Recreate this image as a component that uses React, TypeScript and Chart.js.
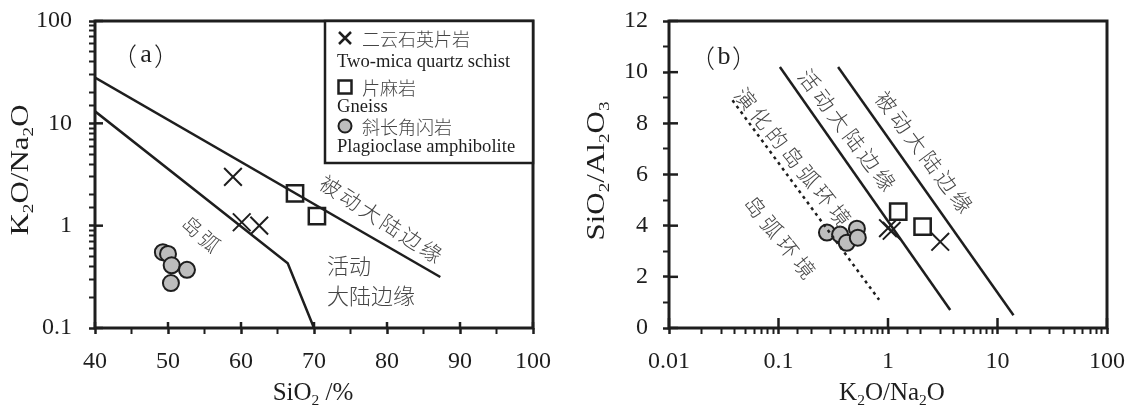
import React, { useEffect, useRef } from 'react';
import { Chart, registerables } from 'chart.js';

Chart.register(...registerables);

// ---------- Panel (a): K2O/Na2O vs SiO2 ----------
const aXTicks = [40, 50, 60, 70, 80, 90, 100];
const aYTicks = [0.1, 1, 10, 100];

const schistSiO2 = [58.9, 60.1, 62.5];
const schistRatioA = [3.0, 1.08, 1.0];
const gneissSiO2 = [67.4, 70.4];
const gneissRatioA = [2.07, 1.24];
const amphSiO2 = [49.3, 50.0, 50.5, 52.6, 50.4];
const amphRatioA = [0.55, 0.53, 0.41, 0.37, 0.275];

const arcLineSiO2 = [40, 66.4, 70];
const arcLineRatio = [13.1, 0.43, 0.1];
const passiveLineSiO2 = [40, 87.3];
const passiveLineRatio = [28, 0.315];

// ---------- Panel (b): SiO2/Al2O3 vs K2O/Na2O ----------
const bXTicks = [0.01, 0.1, 1, 10, 100];
const bYTicks = [0, 2, 4, 6, 8, 10, 12];

const schistRatioB = [1.0, 1.08, 3.0];
const schistSiAl = [3.9, 3.8, 3.37];
const gneissRatioB = [1.24, 2.07];
const gneissSiAl = [4.55, 3.96];
const amphRatioB = [0.277, 0.365, 0.42, 0.52, 0.53];
const amphSiAl = [3.73, 3.65, 3.33, 3.88, 3.53];

const evolvedArcLineRatio = [0.038, 0.83];
const evolvedArcLineSiAl = [8.9, 1.1];
const activeLineRatio = [0.103, 3.7];
const activeLineSiAl = [10.2, 0.7];
const passiveLineRatioB = [0.35, 14];
const passiveLineSiAl = [10.2, 0.5];

// ---------- Text ----------
const legendCn = ['二云石英片岩', '片麻岩', '斜长角闪岩'];
const legendEn = ['Two-mica quartz schist', 'Gneiss', 'Plagioclase amphibolite'];
const regionA = { arc: '岛弧', passive: '被动大陆边缘', active1: '活动', active2: '大陆边缘' };
const regionB = { evolved: '演化的岛弧环境', active: '活动大陆边缘', passive: '被动大陆边缘', arc: '岛弧环境' };

const SERIF = "'Liberation Serif', 'Times New Roman', serif";
const CJK = "'Noto Sans CJK SC', 'Noto Sans CJK JP', sans-serif";
const INK = '#1e1e1e';
const LABEL = '#454545';

type Seg = { t: string; sub?: boolean };

const pts = (xs: number[], ys: number[]) => xs.map((x, i) => ({ x, y: ys[i] }));

const isTick = (list: number[], v: number) =>
  list.find((t) => Math.abs(v - t) <= 1e-6 * Math.max(Math.abs(t), 1e-9) || Math.abs(v - t) < 1e-12);

const lineDs = (data: any[], dashed = false) => ({
  data,
  showLine: true,
  borderColor: INK,
  borderWidth: 2.5,
  borderDash: dashed ? [3, 4] : [],
  pointRadius: 0,
  pointHoverRadius: 0,
  fill: false,
  tension: 0,
});
const crossDs = (data: any[]) => ({
  data,
  showLine: false,
  pointStyle: 'crossRot',
  pointRadius: 12.5,
  borderColor: INK,
  backgroundColor: INK,
  borderWidth: 2,
});
const squareDs = (data: any[]) => ({
  data,
  showLine: false,
  pointStyle: 'rect',
  pointRadius: 11.5,
  borderColor: INK,
  backgroundColor: '#ffffff',
  borderWidth: 2.5,
});
const circleDs = (data: any[]) => ({
  data,
  showLine: false,
  pointStyle: 'circle',
  pointRadius: 8,
  borderColor: INK,
  backgroundColor: '#bdbdbd',
  borderWidth: 2,
});

function drawRich(ctx: CanvasRenderingContext2D, segs: Seg[], x: number, y: number, size: number, rot = 0, stretch = 1) {
  ctx.save();
  ctx.translate(x, y);
  if (rot) ctx.rotate(rot);
  if (stretch !== 1) ctx.scale(stretch, 1);
  const sub = size * 0.62;
  let total = 0;
  const widths = segs.map((s) => {
    ctx.font = `${s.sub ? sub : size}px ${SERIF}`;
    const w = ctx.measureText(s.t).width;
    total += w;
    return w;
  });
  let cx = -total / 2;
  ctx.fillStyle = INK;
  ctx.textAlign = 'left';
  ctx.textBaseline = 'alphabetic';
  segs.forEach((s, i) => {
    ctx.font = `${s.sub ? sub : size}px ${SERIF}`;
    ctx.fillText(s.t, cx, s.sub ? size * 0.2 : 0);
    cx += widths[i];
  });
  ctx.restore();
}

function drawLabel(ctx: CanvasRenderingContext2D, text: string, x: number, y: number, deg: number, size: number, spacing = 0, align: CanvasTextAlign = 'center') {
  ctx.save();
  ctx.translate(x, y);
  ctx.rotate((deg * Math.PI) / 180);
  ctx.font = `300 ${size}px ${CJK}`;
  (ctx as any).letterSpacing = `${spacing}px`;
  ctx.fillStyle = LABEL;
  ctx.textAlign = align;
  ctx.textBaseline = 'middle';
  ctx.fillText(text, align === 'center' ? spacing / 2 : 0, 0);
  ctx.restore();
}

function drawTag(ctx: CanvasRenderingContext2D, letter: string, cx: number, cy: number) {
  ctx.save();
  ctx.fillStyle = INK;
  ctx.textBaseline = 'middle';
  ctx.font = `300 25px ${CJK}`;
  ctx.textAlign = 'right';
  ctx.fillText('（', cx - 9, cy);
  ctx.textAlign = 'left';
  ctx.fillText('）', cx + 8, cy);
  ctx.textAlign = 'center';
  ctx.font = `26px ${SERIF}`;
  ctx.fillText(letter, cx, cy - 1);
  ctx.restore();
}

function frameAndTicks(chart: any, xMaj: number[], yMaj: number[], xIn: number, yIn: number) {
  const { ctx, chartArea } = chart;
  const { left, right, top, bottom } = chartArea;
  const xs = chart.scales.x;
  const ys = chart.scales.y;
  ctx.save();
  ctx.strokeStyle = INK;
  ctx.lineWidth = 2.5;
  xMaj.forEach((v) => {
    const p = xs.getPixelForValue(v);
    ctx.beginPath();
    ctx.moveTo(p, bottom);
    ctx.lineTo(p, bottom - xIn);
    ctx.stroke();
  });
  yMaj.forEach((v) => {
    const p = ys.getPixelForValue(v);
    ctx.beginPath();
    ctx.moveTo(left, p);
    ctx.lineTo(left + yIn, p);
    ctx.stroke();
  });
  ctx.lineWidth = 3;
  ctx.strokeRect(left, top, right - left, bottom - top);
  ctx.restore();
}

function scaleOpts(type: string, min: number, max: number, labels: number[], pad: number, fit: (s: any) => void, step?: number) {
  return {
    type,
    min,
    max,
    afterFit: fit,
    border: { display: false },
    grid: {
      drawOnChartArea: false,
      drawTicks: true,
      tickLength: 6,
      tickColor: INK,
      tickWidth: (c: any) => (c.tick && isTick(labels, c.tick.value) !== undefined ? 2.5 : 2),
    },
    ticks: {
      autoSkip: false,
      maxRotation: 0,
      minRotation: 0,
      padding: pad,
      color: INK,
      font: { family: SERIF, size: 24 },
      ...(step ? { stepSize: step } : {}),
      callback: (v: any) => {
        const t = isTick(labels, Number(v));
        return t === undefined ? '' : String(t);
      },
    },
  };
}

const fitX = (s: any) => {
  s.height = 81;
  s.paddingLeft = 0;
  s.paddingRight = 0;
};
const fitY = (w: number) => (s: any) => {
  s.width = w;
  s.paddingTop = 0;
  s.paddingBottom = 0;
};

function makeA(canvas: HTMLCanvasElement) {
  const decor = {
    id: 'decorA',
    afterDraw(chart: any) {
      const { ctx, chartArea } = chart;
      frameAndTicks(chart, aXTicks, aYTicks, 6, 8);
      drawTag(ctx, 'a', 146, 56);
      // region labels
      drawLabel(ctx, regionA.arc, 201, 234, 42, 20, 3);
      drawLabel(ctx, regionA.passive, 381, 219, 33, 21, 3);
      drawLabel(ctx, regionA.active1, 327, 266, 0, 22, 0, 'left');
      drawLabel(ctx, regionA.active2, 327, 296, 0, 22, 0, 'left');
      // legend
      const bx = 325, by = chartArea.top, br = chartArea.right, bb = 163;
      ctx.save();
      ctx.fillStyle = '#ffffff';
      ctx.fillRect(bx, by, br - bx, bb - by);
      ctx.strokeStyle = INK;
      ctx.lineWidth = 2.5;
      ctx.strokeRect(bx, by, br - bx, bb - by);
      ctx.lineWidth = 2.5;
      ctx.beginPath();
      ctx.moveTo(339, 32); ctx.lineTo(351, 44);
      ctx.moveTo(351, 32); ctx.lineTo(339, 44);
      ctx.stroke();
      ctx.strokeRect(338.5, 80.5, 13, 13);
      ctx.beginPath();
      ctx.arc(345, 126, 6.5, 0, Math.PI * 2);
      ctx.fillStyle = '#bdbdbd';
      ctx.fill();
      ctx.lineWidth = 2;
      ctx.stroke();
      ctx.textAlign = 'left';
      ctx.textBaseline = 'middle';
      ctx.fillStyle = LABEL;
      ctx.font = `300 18px ${CJK}`;
      ctx.fillText(legendCn[0], 362, 39);
      ctx.fillText(legendCn[1], 362, 88);
      ctx.fillText(legendCn[2], 362, 127);
      ctx.fillStyle = INK;
      ctx.font = `18.6px ${SERIF}`;
      ctx.fillText(legendEn[0], 337, 62);
      ctx.fillText(legendEn[1], 337, 107);
      ctx.fillText(legendEn[2], 337, 147);
      ctx.restore();
      // axis titles
      drawRich(ctx, [{ t: 'SiO' }, { t: '2', sub: true }, { t: ' /%' }], 313, 400, 25);
      drawRich(ctx, [{ t: 'K' }, { t: '2', sub: true }, { t: 'O/Na' }, { t: '2', sub: true }, { t: 'O' }], 28, 170, 25, -Math.PI / 2, 1.24);
    },
  };
  return new Chart(canvas, {
    type: 'scatter',
    data: {
      datasets: [
        lineDs(pts(arcLineSiO2, arcLineRatio)),
        lineDs(pts(passiveLineSiO2, passiveLineRatio)),
        crossDs(pts(schistSiO2, schistRatioA)),
        squareDs(pts(gneissSiO2, gneissRatioA)),
        circleDs(pts(amphSiO2, amphRatioA)),
      ] as any,
    },
    options: {
      animation: false,
      responsive: false,
      devicePixelRatio: 1,
      events: [],
      layout: { padding: { left: 0, right: 33, top: 21, bottom: 0 } },
      plugins: { legend: { display: false }, tooltip: { enabled: false }, title: { display: false } },
      scales: {
        x: scaleOpts('linear', 40, 100, aXTicks, 13, fitX, 5),
        y: scaleOpts('logarithmic', 0.1, 100, aYTicks, 17, fitY(95)),
      } as any,
    },
    plugins: [decor],
  } as any);
}

function makeB(canvas: HTMLCanvasElement) {
  const decor = {
    id: 'decorB',
    afterDraw(chart: any) {
      const { ctx } = chart;
      frameAndTicks(chart, bXTicks, bYTicks, 10, 9);
      drawTag(ctx, 'b', 158, 58);
      drawLabel(ctx, regionB.evolved, 227, 157, 51, 21, 4);
      drawLabel(ctx, regionB.active, 281, 130, 53, 21, 4);
      drawLabel(ctx, regionB.passive, 358, 152, 53, 21, 4);
      drawLabel(ctx, regionB.arc, 214, 237, 51, 21, 5);
      drawRich(ctx, [{ t: 'K' }, { t: '2', sub: true }, { t: 'O/Na' }, { t: '2', sub: true }, { t: 'O' }], 326, 400, 25);
      drawRich(ctx, [{ t: 'SiO' }, { t: '2', sub: true }, { t: '/Al' }, { t: '2', sub: true }, { t: 'O' }, { t: '3', sub: true }], 38, 171, 25, -Math.PI / 2, 1.24);
    },
  };
  return new Chart(canvas, {
    type: 'scatter',
    data: {
      datasets: [
        lineDs(pts(evolvedArcLineRatio, evolvedArcLineSiAl), true),
        lineDs(pts(activeLineRatio, activeLineSiAl)),
        lineDs(pts(passiveLineRatioB, passiveLineSiAl)),
        circleDs(pts(amphRatioB, amphSiAl)),
        squareDs(pts(gneissRatioB, gneissSiAl)),
        crossDs(pts(schistRatioB, schistSiAl)),
      ] as any,
    },
    options: {
      animation: false,
      responsive: false,
      devicePixelRatio: 1,
      events: [],
      layout: { padding: { left: 0, right: 25, top: 21, bottom: 0 } },
      plugins: { legend: { display: false }, tooltip: { enabled: false }, title: { display: false } },
      scales: {
        x: scaleOpts('logarithmic', 0.01, 100, bXTicks, 13, fitX),
        y: scaleOpts('linear', 0, 12, bYTicks, 15, fitY(103), 1),
      } as any,
    },
    plugins: [decor],
  } as any);
}

export default function App() {
  const refA = useRef<HTMLCanvasElement>(null);
  const refB = useRef<HTMLCanvasElement>(null);
  useEffect(() => {
    const a = makeA(refA.current as HTMLCanvasElement);
    const b = makeB(refB.current as HTMLCanvasElement);
    return () => {
      a.destroy();
      b.destroy();
    };
  }, []);
  return (
    <div style={{ position: 'absolute', left: 0, top: 0, width: 1132, height: 409, background: '#ffffff' }}>
      <canvas ref={refA} width={566} height={409} style={{ position: 'absolute', left: 0, top: 0, width: 566, height: 409 }} />
      <canvas ref={refB} width={566} height={409} style={{ position: 'absolute', left: 566, top: 0, width: 566, height: 409 }} />
    </div>
  );
}
